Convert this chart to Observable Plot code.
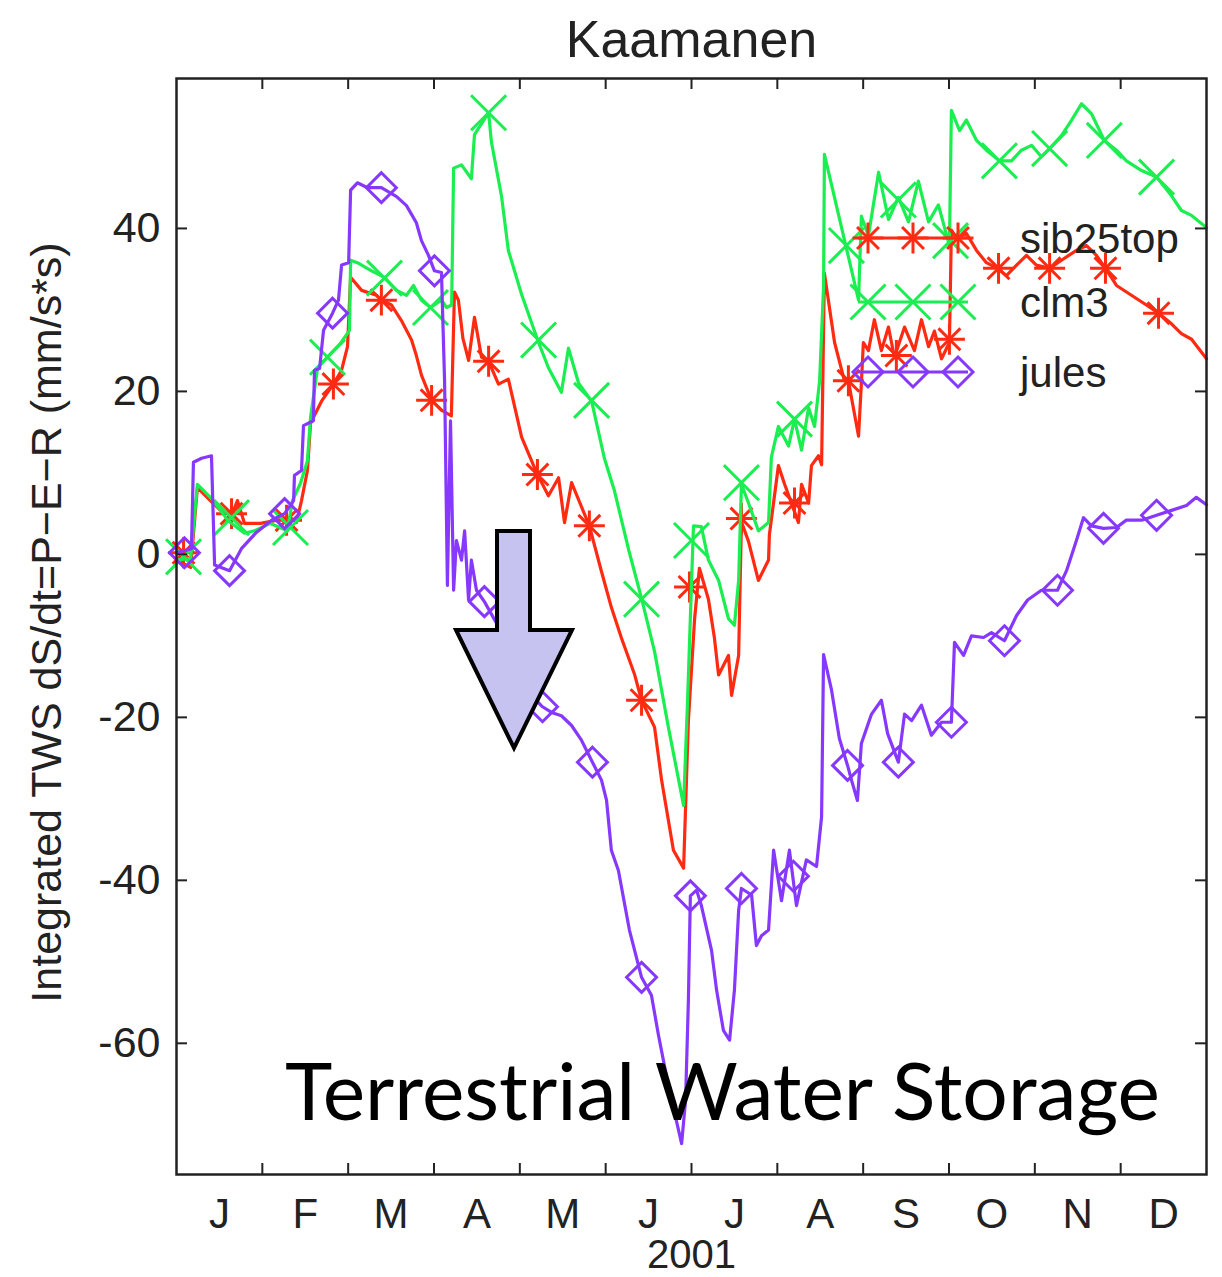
<!DOCTYPE html>
<html>
<head>
<meta charset="utf-8">
<script src="https://cdn.jsdelivr.net/npm/d3@7"></script>
<script src="https://cdn.jsdelivr.net/npm/@observablehq/plot@0.6"></script>
<style>
  html, body { margin: 0; padding: 0; background: #fff; }
  #wrap { position: relative; width: 1222px; height: 1277px; }
  #overlay { position: absolute; left: 0; top: 0; pointer-events: none; }
</style>
</head>
<body>
<div id="wrap"></div>
<script>
// ---------------- data (day of year 2001, integrated TWS in mm) ----------------
const monthLabels = ["J","F","M","A","M","J","J","A","S","O","N","D"];
const yTicks = [-60, -40, -20, 0, 20, 40];
const seriesNames = ["sib25top", "clm3", "jules"];

const sibDay = [0,5,7.4,12,15.6,19.8,21.6,24.1,29.8,35.8,40.4,42.5,44.3,46.4,47.5,51.4,55.6,58.5,60.6,61.7,65.6,70.9,72.6,76.2,79.7,83.3,85,86.8,90.4,93.9,97.4,98.5,99.9,101.5,103.5,105.6,108.1,110.6,114.1,117.6,122.3,127.9,131.8,135.4,137.5,140,146.3,150.6,154.1,157.7,162.3,164.8,169.4,171.9,176.1,179.7,181.4,183.6,185.3,188.5,190.6,192.1,195.6,196.7,199.2,200.2,202.7,206.2,209.8,210.1,213.3,215.5,217.9,220.4,221.5,224,225,227.5,228.6,229.6,233.2,236.7,238.1,241.7,242.7,243.4,245.2,247.3,249.8,252.3,254.4,258,261.5,264,266.5,268.6,271.1,273.9,274.6,276.4,279.9,283.5,287,290.9,294.1,297.7,301.2,304.7,309.4,313.6,318.9,322.5,326,329.2,333.1,338.4,343.7,348,352.6,356.1,359.7,365];
const sibVal = [-0.7,-1.6,8.2,6.6,5.4,5.0,6.6,3.8,3.8,4.2,4.5,3.9,6.6,10.3,16.1,18.8,20.9,22.6,25.5,34.0,32.4,31.8,31.2,30.6,28.7,26.3,24.4,22.0,18.9,17.7,17.0,32.2,31.2,26.5,23.8,29.1,24.2,23.7,20.9,21.5,14.4,9.8,7.2,9.4,3.9,8.8,3.5,-2.1,-6.5,-10.3,-14.7,-17.9,-21.2,-27.7,-36.3,-38.5,-20.4,-7.9,-1.7,-5.5,-10.2,-14.8,-12.4,-17.3,-12.4,4.0,1.6,-3.2,-0.7,2.4,10.9,8.6,6.3,3.9,8.6,6.3,10.9,12.1,11.0,34.5,26.0,21.3,21.3,14.5,21.0,26.0,25.0,28.8,25.0,27.9,24.2,27.9,25.0,28.8,25.5,27.4,24.0,26.0,39.8,38.8,39.4,37.3,35.8,35.1,34.2,35.5,36.7,35.5,35.1,36.1,37.3,37.9,36.7,35.1,33.0,31.8,30.6,29.6,28.3,27.1,26.4,24.0];
const sibMarkDay = [2.5,19.5,39,55.6,72.6,90.4,110.6,127.9,146.3,164.8,181.8,200.2,219,238.1,255.1,273.9,291.3,309.4,329.2,348];
const sibMarkVal = [0.2,5.0,4.2,20.9,31.2,18.9,23.7,9.8,3.5,-17.9,-4.0,4.4,6.3,21.3,24.4,26.4,35.1,35.1,35.1,29.6];

const clmDay = [0,5,7.4,12,15.6,18.1,24.1,27.6,33.3,39.3,41.1,43.9,46.4,47.5,50,53.5,58.1,61.3,61.7,64.1,69.1,73.7,78,81.5,84,86.8,90,93.9,95.7,97.5,98.2,101,104.5,105.6,110.6,111.6,115.2,117.6,122.3,128.3,131.8,136.4,138.9,142.5,147.1,151.7,155.2,160.2,164.8,169.4,174.3,179.7,181.1,183.2,186,188.5,192.1,195.6,197.7,199.2,200.2,202.7,206.2,209.8,210.8,213.3,216.9,219,221.5,224,226.1,227.9,229.3,229.6,241.7,242.7,245.2,248.8,252.3,255.8,259.4,262.9,266.5,270,273.9,274.6,277.5,279.9,283.5,287,291.6,295.9,299.4,303,306.5,309.4,313.6,317.2,320.7,324.2,328.8,333.1,336.6,342,347.3,352.6,356.1,359.7,365];
const clmVal = [-0.7,-0.5,8.6,7.0,5.4,4.2,2.6,2.9,3.8,2.9,6.6,8.7,11.5,16.8,22.9,24.2,25.9,27.5,36.1,35.8,34.8,34.0,32.4,31.8,33.0,31.2,30.3,31.2,30.3,30.6,47.4,47.8,46.1,51.5,54.2,50.6,43.9,37.3,31.9,26.0,22.9,19.9,25.3,21.0,18.8,11.7,7.8,0.6,-5.4,-11.9,-21.2,-30.8,-18.0,3.5,3.4,-0.7,-3.2,-7.9,-8.7,-3.2,8.6,6.3,2.9,3.9,11.9,15.7,13.3,16.6,12.8,18.0,15.7,21.3,32.9,49.1,31.2,41.5,39.1,46.9,41.1,43.8,40.8,45.8,40.8,42.9,37.9,54.5,52.0,53.3,50.8,49.6,48.3,48.3,49.6,50.2,48.8,49.8,51.4,53.3,55.3,54.1,50.8,49.6,48.3,47.1,46.3,44.0,42.2,41.6,40.1];
const clmMarkDay = [2.5,19.5,40.4,53.5,73.7,90,110.6,128.3,147.1,164.8,182.5,200.2,219,237.4,255.8,274.3,291.6,309.4,328.8,347.3];
const clmMarkVal = [-0.3,4.5,3.3,24.2,33.9,30.3,54.2,26.3,18.9,-5.5,1.7,8.8,16.6,37.9,43.5,38.5,48.3,49.8,50.8,46.3];

const julesDay = [0,5.3,6,8.9,12.4,13.5,18.8,23,28.3,33.7,38.3,41.5,41.8,44.3,45,48.5,48.9,50.7,52.1,55.3,57.4,58.5,61,61.7,64.1,67.7,72.6,78,81.5,85,86.8,89.3,91.4,93.9,95,96,97.1,98.2,99.2,101,102.1,103.5,104.5,106.3,109.1,116.9,125.8,129.7,132.9,136.4,140,143.5,147.4,150.6,152.4,154.1,156.6,160.5,164.8,168.3,170.8,174.3,179,180.4,181.4,182.1,184.3,186,189.6,191.4,193.8,196,197.7,199.2,200.2,203.8,205.5,207.3,209.8,211.6,214.4,217.2,219.7,223.2,226.8,228.6,229.3,232.1,234.9,237.8,239.2,241.3,242.7,246.3,249.8,252,255.8,258,260.5,264,267.5,271.1,274.6,275.7,278.9,281.7,286,288.8,293.4,297.7,301.6,306.5,312.2,315.4,318.9,321.4,324.2,328.5,333.1,336.6,342,347.3,352.6,357.9,361.4,365];
const julesVal = [0.2,0.7,11.3,11.8,12.1,-1.3,-2.0,0.7,2.7,4.2,5.0,6.6,9.7,10.3,15.8,16.4,22.6,22.8,27.5,29.6,31.2,35.5,35.8,44.7,45.6,45.0,45.0,43.9,42.8,40.7,38.5,36.7,34.8,34.6,21.3,-3.8,16.4,-4.4,1.7,-0.7,2.9,-5.6,-0.7,-4.4,-5.8,-10.6,-17.3,-18.7,-19.4,-19.8,-21.0,-22.8,-25.5,-27.7,-30.2,-36.3,-38.8,-46.1,-51.9,-54.1,-59.0,-65.2,-72.3,-67.0,-54.7,-41.9,-41.2,-43.1,-48.6,-53.5,-58.4,-59.6,-53.5,-43.7,-41.0,-41.8,-48.0,-46.8,-46.1,-36.3,-42.5,-36.3,-43.1,-37.5,-38.3,-32.2,-12.3,-16.6,-22.6,-25.9,-27.7,-30.2,-23.2,-19.6,-17.9,-22.0,-25.5,-19.6,-20.4,-18.5,-22.2,-20.6,-20.6,-10.8,-12.4,-10.0,-10.2,-9.6,-10.6,-7.5,-5.6,-4.4,-4.4,-2.0,1.7,4.5,3.5,3.2,3.3,4.2,4.2,4.8,5.4,6.0,7.0,6.1];
const julesMarkDay = [2.8,18.8,38.3,55.3,72.6,91.4,109.1,129.7,147.4,164.8,182.1,200.2,218.6,237.8,255.8,274.6,293.4,312.2,328.5,347.3];
const julesMarkVal = [0.2,-2.0,5.0,29.6,45.0,34.8,-5.8,-18.7,-25.5,-51.9,-41.9,-41.0,-39.5,-25.9,-25.5,-20.6,-10.6,-4.4,3.2,4.8];

// ---------------- layout & style ----------------
const W = 1222, H = 1277;
const mL = 176, mR = 16, mT = 78, mB = 103;
const fw = W - mL - mR, fh = H - mT - mB;
const tickLen = 11;
const C = { sib: "#ff2a12", clm: "#1aee50", jules: "#8638ff" };
const ink = "#222";
const FONT = "'Liberation Sans', Arial, Helvetica, sans-serif";

const rows = (ds, vs) => ds.map((d, i) => ({ day: d, v: vs[i] }));
const sib = rows(sibDay, sibVal), sibM = rows(sibMarkDay, sibMarkVal);
const clm = rows(clmDay, clmVal), clmM = rows(clmMarkDay, clmMarkVal);
const jules = rows(julesDay, julesVal), julesM = rows(julesMarkDay, julesMarkVal);

const monthEdges = d3.range(1, 12).map(i => i * 365 / 12);
const monthMids = d3.range(12).map(i => (i + 0.5) * 365 / 12);

const R = { ast: 10, times: 16, diamond: 13.5 };

const chart = Plot.plot({
  width: W, height: H,
  marginLeft: mL, marginRight: mR, marginTop: mT, marginBottom: mB,
  style: { fontFamily: FONT, background: "#fff", color: ink, overflow: "visible" },
  x: { domain: [0, 365] },
  y: { domain: [-76.1, 58.4] },
  marks: [
    Plot.line(sib, { x: "day", y: "v", stroke: C.sib, strokeWidth: 3.2, strokeLinejoin: "round" }),
    Plot.dot(sibM, { x: "day", y: "v", symbol: "plus", r: R.ast, stroke: C.sib, strokeWidth: 3 }),
    Plot.dot(sibM, { x: "day", y: "v", symbol: "times", r: R.ast, stroke: C.sib, strokeWidth: 3 }),
    Plot.line(clm, { x: "day", y: "v", stroke: C.clm, strokeWidth: 3.2, strokeLinejoin: "round" }),
    Plot.dot(clmM, { x: "day", y: "v", symbol: "times", r: R.times, stroke: C.clm, strokeWidth: 3 }),
    Plot.line(jules, { x: "day", y: "v", stroke: C.jules, strokeWidth: 3.2, strokeLinejoin: "round" }),
    Plot.dot(julesM, { x: "day", y: "v", symbol: "diamond2", r: R.diamond, stroke: C.jules, strokeWidth: 3 }),
    Plot.frame({ stroke: ink, strokeWidth: 2.5 }),
    Plot.tickX(monthEdges, { x: d => d, insetTop: fh - tickLen, stroke: ink, strokeWidth: 2 }),
    Plot.tickX(monthEdges, { x: d => d, insetBottom: fh - tickLen, stroke: ink, strokeWidth: 2 }),
    Plot.tickY(yTicks, { y: d => d, insetRight: fw - tickLen, stroke: ink, strokeWidth: 2 }),
    Plot.tickY(yTicks, { y: d => d, insetLeft: fw - tickLen, stroke: ink, strokeWidth: 2 }),
    Plot.axisY(yTicks, { tickSize: 0, tickPadding: 16, fontSize: 43, tickFormat: d => String(d), label: null }),
    Plot.axisX(monthMids, { tickSize: 0, tickPadding: 24, fontSize: 42,
      tickFormat: d => monthLabels[monthMids.indexOf(d)], label: null }),
    Plot.text(["Kaamanen"], { frameAnchor: "top", lineAnchor: "middle", textAnchor: "middle",
      dy: -38, fontSize: 52, text: d => d, fill: ink }),
    Plot.text(["2001"], { frameAnchor: "bottom", lineAnchor: "middle", textAnchor: "middle",
      dy: 81, fontSize: 40, text: d => d, fill: ink }),
    Plot.text(["Integrated TWS dS/dt=P\u2212E\u2212R (mm/s*s)"], {
      frameAnchor: "left", lineAnchor: "middle", textAnchor: "middle",
      dx: -129, dy: -4, rotate: -90, fontSize: 43, text: d => d, fill: ink })
  ]
});

const wrap = document.getElementById("wrap");
wrap.appendChild(chart);

// ---------------- overlay: in-axes legend, arrow and annotation ----------------
const ov = d3.select(wrap).append("svg")
  .attr("id", "overlay").attr("width", W).attr("height", H);

const legendRows = [
  { name: seriesNames[0], color: C.sib, syms: [[d3.symbolPlus, R.ast], [d3.symbolTimes, R.ast]], y: 238 },
  { name: seriesNames[1], color: C.clm, syms: [[d3.symbolTimes, R.times]], y: 302 },
  { name: seriesNames[2], color: C.jules, syms: [[d3.symbolDiamond2, R.diamond]], y: 372 }
];
const lg = ov.append("g");
legendRows.forEach(row => {
  lg.append("line").attr("x1", 858).attr("x2", 968).attr("y1", row.y).attr("y2", row.y)
    .attr("stroke", row.color).attr("stroke-width", 3);
  [868, 913, 958].forEach(mx => {
    row.syms.forEach(([sym, r]) => {
      lg.append("path").attr("d", d3.symbol(sym, Math.PI * r * r)())
        .attr("transform", `translate(${mx},${row.y})`)
        .attr("fill", "none").attr("stroke", row.color).attr("stroke-width", 3);
    });
  });
  lg.append("text").attr("x", 1020).attr("y", row.y).attr("dy", "0.35em")
    .attr("font-family", FONT).attr("font-size", 42).attr("fill", ink).text(row.name);
});

// downward arrow annotation
ov.append("path")
  .attr("d", "M497,531 L530,531 L530,630 L572,630 L514,748 L456,630 L497,630 Z")
  .attr("fill", "#c7c3f1").attr("stroke", "#000").attr("stroke-width", 4)
  .attr("stroke-linejoin", "miter");

// big annotation text
ov.append("text")
  .attr("x", 285).attr("y", 1120)
  .attr("font-family", "Lato, 'Open Sans', sans-serif")
  .attr("font-size", 80).attr("fill", "#000")
  .attr("textLength", 875).attr("lengthAdjust", "spacingAndGlyphs")
  .text("Terrestrial Water Storage");
</script>
</body>
</html>
